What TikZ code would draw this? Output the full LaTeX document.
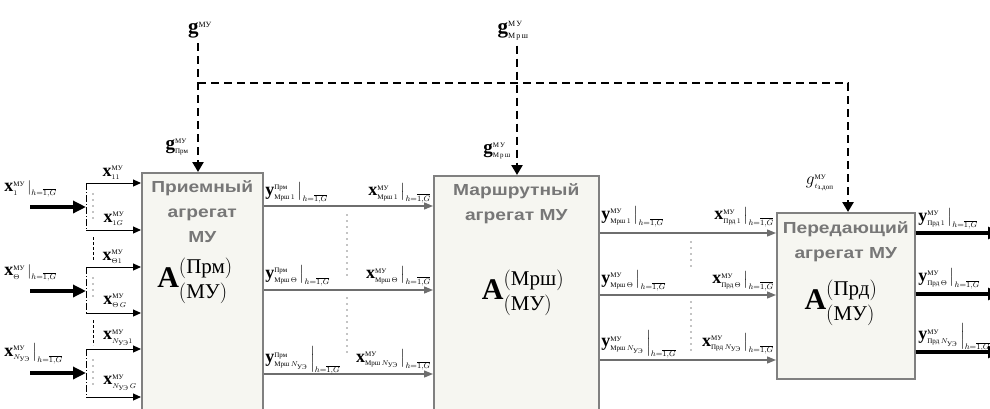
\documentclass[tikz,border=0pt]{standalone}
\usepackage{amsmath}
\usepackage{fontspec}
\setmainfont{Liberation Serif}
\newfontfamily\aggfont[FakeStretch=1.2]{Liberation Sans}
\usetikzlibrary{arrows.meta, positioning}
\definecolor{AggFill}{HTML}{F6F6F1}
\definecolor{AggLine}{HTML}{808080}
\definecolor{FlowGray}{HTML}{6E6E6E}
\definecolor{TitleGray}{HTML}{777777}

\newcommand{\lsize}{18}
\newcommand{\bv}[1]{\text{\bfseries #1}}
\newcommand{\bx}[1]{\text{\fontsize{\lsize}{\lsize}\selectfont\bfseries #1}}
\newcommand{\vs}[3]{\bx{#1}^{\scriptscriptstyle\text{#2}}_{\scriptscriptstyle #3}}
\newcommand{\hG}[1]{\left.#1\,\right|_{\text{\fontsize{8}{8}\selectfont$h{=}\overline{1{,}G}$}}}
\newcommand{\Agg}[1]{\bv{A}^{(\text{#1})}_{(\text{МУ})}}

\begin{document}
\begin{tikzpicture}[x=1pt, y=-1pt,
    agg/.style={draw=AggLine, fill=AggFill, line width=1.5pt, anchor=north west, inner sep=0pt},
    atitle/.style={font=\aggfont\bfseries\fontsize{16}{25}\selectfont, text=TitleGray, align=center, anchor=north, inner sep=0pt},
    aname/.style={font=\fontsize{30}{32}\selectfont},
    lbl/.style={font=\fontsize{14}{16}\selectfont, inner sep=0pt},
    glbl/.style={font=\fontsize{16}{18}\selectfont\renewcommand{\lsize}{21}, inner sep=0pt},
    flow/.style={draw=FlowGray, line width=1.3pt, -{Triangle[length=9pt,width=7pt]}},
    inarr/.style={line width=3.5pt, -{Triangle[length=13pt,width=12pt]}},
    subarr/.style={line width=1pt, -{Triangle[length=8pt,width=7pt]}},
    outarr/.style={line width=3.5pt, -{Triangle[length=12pt,width=12pt]}},
    brk/.style={line width=1pt, dash pattern=on 7pt off 2pt on 1pt off 2pt},
    ctrl/.style={line width=2.7pt, dash pattern=on 8pt off 5pt},
    ctip/.style={-{Triangle[length=10pt,width=11pt]}},
    vdots/.style={line width=1.4pt, dash pattern=on 0pt off 6pt, line cap=round},
    gdash/.style={line width=0.8pt, dash pattern=on 3pt off 2pt}
]
\useasboundingbox (0,0) rectangle (990,408);
\clip (0,0) rectangle (990,408);

% Aggregates
\node[agg, minimum width=121pt, minimum height=260pt] (prm) at (141,172) {};
\node[agg, minimum width=165pt, minimum height=260pt] (mrsh) at (433,175) {};
\node[agg, minimum width=138pt, minimum height=166pt] (prd) at (776,212) {};

\node[atitle] at ([yshift=-8pt]prm.north) {Приемный\\агрегат\\МУ};
\node[atitle] at ([yshift=-8pt]mrsh.north) {Маршрутный\\агрегат МУ};
\node[atitle] at ([yshift=-9pt]prd.north) {Передающий\\агрегат МУ};

\node[aname] at (195,281) {$\Agg{Прм}$};
\node[aname] at (523,293) {$\Agg{Мрш}$};
\node[aname] at (841,303) {$\Agg{Прд}$};

% Inputs
\foreach \ya/\yb/\ym [count=\k] in {183/230/207, 267/313/291, 349/397/373} {
  \coordinate (bt\k) at (86,\ya);
  \coordinate (bb\k) at (86,\yb);
  \coordinate (in\k) at (30,\ym);
  \draw[inarr] (in\k) -- (bt\k |- in\k);
  \draw[brk] (bt\k) -- (bb\k);
  \draw[subarr] (bt\k) -- (prm.west |- bt\k);
  \draw[subarr] (bb\k) -- (prm.west |- bb\k);
  \draw[vdots] (93,\ya+11) -- (93,\yb-11);
}
\draw[gdash] (93,237) -- (93,261);
\draw[gdash] (93,320) -- (93,345);

\node[lbl, anchor=west] at (3,189) {$\hG{\vs{x}{МУ}{1}}$};
\node[lbl, anchor=west] at (3,273) {$\hG{\vs{x}{МУ}{\Theta}}$};
\node[lbl, anchor=west] at (3,354) {$\hG{\vs{x}{МУ}{N_{\text{УЭ}}}}$};

\node[lbl] at (113,173) {$\vs{x}{МУ}{11}$};
\node[lbl] at (114,219) {$\vs{x}{МУ}{1G}$};
\node[lbl] at (113,257) {$\vs{x}{МУ}{\Theta 1}$};
\node[lbl] at (115,301) {$\vs{x}{МУ}{\Theta\,G}$};
\node[lbl] at (118,338) {$\vs{x}{МУ}{N_{\text{УЭ}}1}$};
\node[lbl] at (120,383) {$\vs{x}{МУ}{N_{\text{УЭ}}\,G}$};

% Prm -> Mrsh
\foreach \y in {206,290,374}
  \draw[flow] (prm.east |- 0,\y) -- (mrsh.west |- 0,\y);
\foreach \s/\y in {1/193, \Theta/276, N_{\text{УЭ}}/360} {
  \node[lbl, anchor=west] at (264,\y) {$\hG{\vs{y}{Прм}{\text{Мрш}\,\s}}$};
  \node[lbl, anchor=east] at (431,\y) {$\hG{\vs{x}{МУ}{\text{Мрш}\,\s}}$};
}
\draw[vdots] (347,215) -- (347,277);
\draw[vdots] (347,298) -- (347,353);

% Mrsh -> Prd
\foreach \y in {233,295,360}
  \draw[flow] (mrsh.east |- 0,\y) -- (prd.west |- 0,\y);
\foreach \s/\y in {1/217, \Theta/281, N_{\text{УЭ}}/344} {
  \node[lbl, anchor=west] at (600,\y) {$\hG{\vs{y}{МУ}{\text{Мрш}\,\s}}$};
  \node[lbl, anchor=east] at (774,\y) {$\hG{\vs{x}{МУ}{\text{Прд}\,\s}}$};
}
\draw[vdots] (691,242) -- (691,270);
\draw[vdots] (691,302) -- (691,353);

% Outputs
\foreach \y [count=\k] in {233,294,352} {
  \coordinate (out\k) at (1000,\y);
  \draw[outarr] (prd.east |- out\k) -- (out\k);
}
\foreach \s/\y in {1/219, \Theta/279, N_{\text{УЭ}}/337}
  \node[lbl, anchor=west] at (917,\y) {$\hG{\vs{y}{МУ}{\text{Прд}\,\s}}$};

% Control
\node[glbl] (gmu) at (200,30) {$\bx{g}^{\scriptscriptstyle\text{МУ}}$};
\node[glbl] (gmrsh) at (513,31) {$\vs{g}{М\,У}{\text{М\,р\,ш}}$};
\coordinate (gc) at (198,83);
\coordinate (gr) at (848,83);
\coordinate (gm) at (517,83);
\draw[ctrl, ctip, shorten <=5pt] (gmu.south -| gc) -- (gc) -- (prm.north -| gc);
\draw[ctrl, ctip] (gc) -- (gr) -- (prd.north -| gr);
\draw[ctrl, ctip, shorten <=5pt] (gmrsh.south -| gm) -- (mrsh.north -| gm);

\node[glbl, font=\fontsize{14}{16}\selectfont\renewcommand{\lsize}{19}] at (177,147) {$\vs{g}{МУ}{\text{Прм}}$};
\node[glbl, font=\fontsize{14}{16}\selectfont\renewcommand{\lsize}{19}] at (497,151) {$\vs{g}{М\,У}{\text{М\,р\,ш}}$};
\node[glbl, font=\fontsize{14}{16}\selectfont\renewcommand{\lsize}{19}] at (820,183) {$\text{\fontsize{\lsize}{\lsize}\selectfont$g$}^{\scriptscriptstyle\text{МУ}}_{\scriptscriptstyle t_{\text{з.доп}}}$};
\end{tikzpicture}
\end{document}
